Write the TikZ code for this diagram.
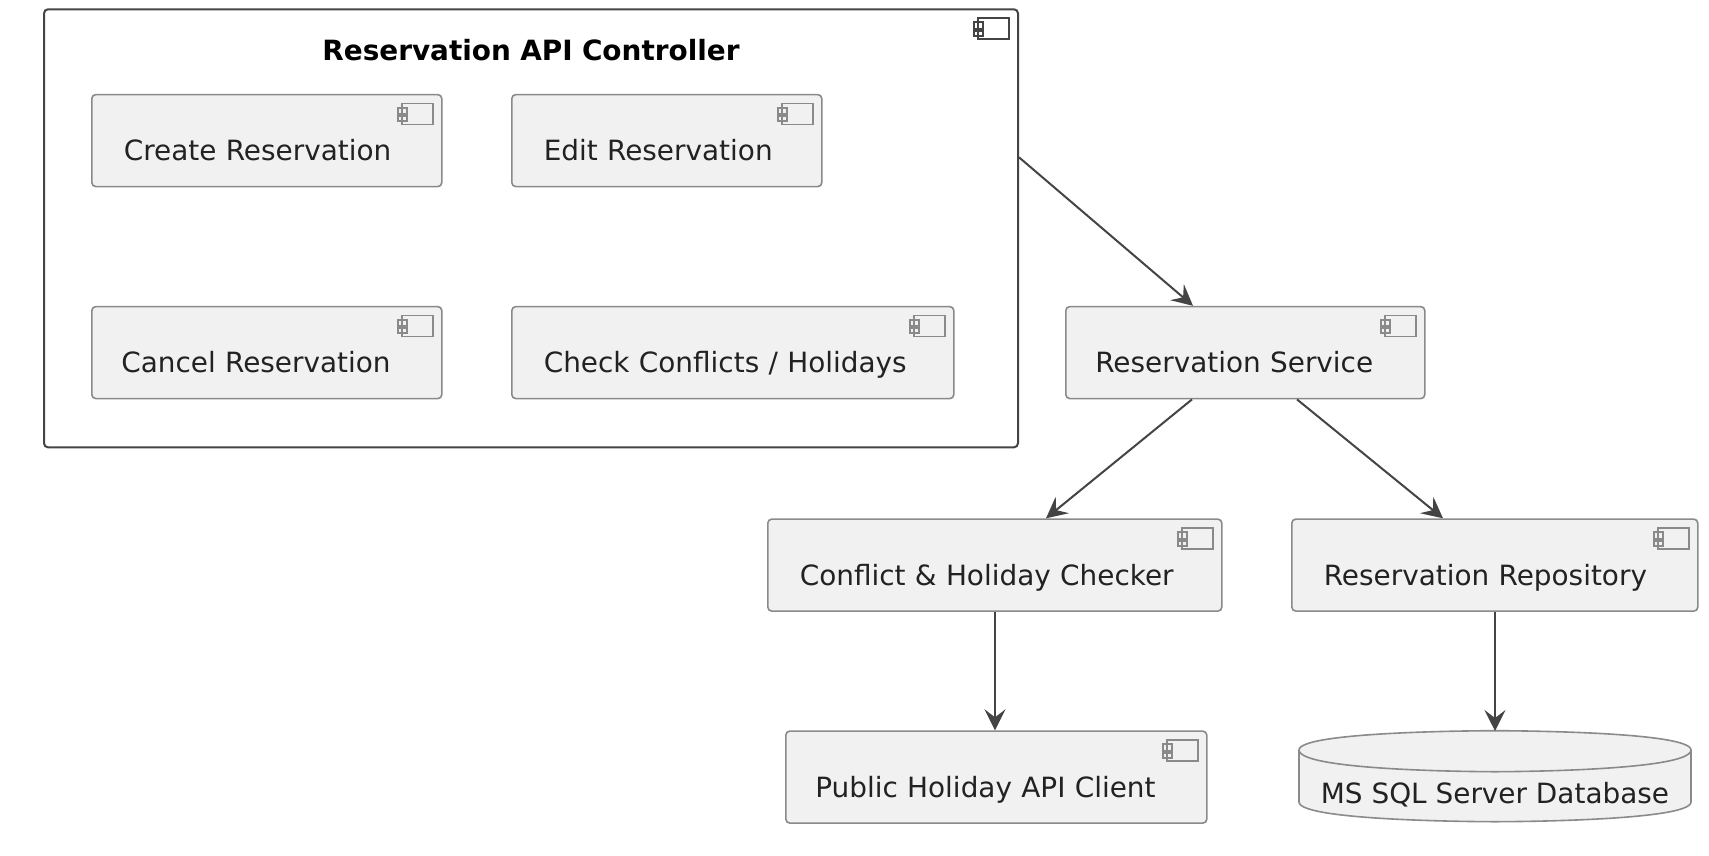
\documentclass[tikz,border=0pt]{standalone}
\usepackage{fontspec}
\setmainfont{DejaVu Sans}
\usetikzlibrary{arrows.meta}
\definecolor{boxfill}{HTML}{F1F1F1}
\definecolor{boxedge}{HTML}{8A8A8A}
\definecolor{darkedge}{HTML}{444444}
\definecolor{inkcol}{HTML}{222222}
\tikzset{
  compbox/.style={draw=boxedge,fill=boxfill,line width=1.6pt,rounded corners=4pt,anchor=north west,
    font=\fontsize{27.9}{32}\selectfont,text=inkcol,inner xsep=32pt,inner ysep=0pt,text height=66pt,text depth=26pt},
  outerbox/.style={draw=darkedge,fill=white,line width=2pt,rounded corners=4pt,anchor=north west,
    font=\fontsize{27.9}{32}\selectfont\bfseries,text=black,inner xsep=0pt,inner ysep=0pt,align=center,text height=51pt,text depth=387pt},
  link/.style={draw=darkedge,line width=2pt,-{Stealth[length=21pt,width=21pt,inset=8pt]}},
  compicon/.pic={
    \draw[pic actions,line width=1.8pt] (-41,9.7) rectangle (-10,30.7);
    \draw[pic actions,line width=1.8pt] (-45,14) rectangle (-36,20.3);
    \draw[pic actions,line width=1.8pt] (-45,22.4) rectangle (-36,27.4);
  }
}
\begin{document}
\begin{tikzpicture}[x=1pt,y=-1pt]
\useasboundingbox (0,0) rectangle (1709,855);
% outer component
\node (controller) at (43,8.3) [outerbox,text width=974pt] {Reservation API Controller};
\pic[draw=darkedge] at (controller.north east) {compicon};
% inner components
\node (create) at (91,93.8) [compbox,text width=286pt] {Create Reservation};
\node (edit) at (511,93.8) [compbox,text width=246pt] {Edit Reservation};
\node (cancel) at (91,305.8) [compbox,inner xsep=29.5pt,text width=291pt] {Cancel Reservation};
\node (check) at (511,305.8) [compbox,text width=378pt] {Check Conflicts / Holidays};
\pic[draw=boxedge] at (create.north east) {compicon};
\pic[draw=boxedge] at (edit.north east) {compicon};
\pic[draw=boxedge] at (cancel.north east) {compicon};
\pic[draw=boxedge] at (check.north east) {compicon};
% right hand side
\node (service) at (1065,305.8) [compbox,inner xsep=29.5pt,text width=300pt] {Reservation Service};
\node (checker) at (767,518.3) [compbox,text width=390pt] {Conflict \& Holiday Checker};
\node (repo) at (1291,518.3) [compbox,text width=342pt] {Reservation Repository};
\node (client) at (785,730.3) [compbox,inner xsep=29.5pt,text width=362pt] {Public Holiday API Client};
\pic[draw=boxedge] at (service.north east) {compicon};
\pic[draw=boxedge] at (checker.north east) {compicon};
\pic[draw=boxedge] at (repo.north east) {compicon};
\pic[draw=boxedge] at (client.north east) {compicon};
% database
\draw[draw=boxedge,fill=boxfill,line width=1.6pt] (1299,750) .. controls (1299,730.7) and (1495,730.7) .. (1495,730.7)
  .. controls (1495,730.7) and (1691,730.7) .. (1691,750) -- (1691,802)
  .. controls (1691,821.7) and (1495,821.7) .. (1495,821.7)
  .. controls (1495,821.7) and (1299,821.7) .. (1299,802) -- cycle;
\draw[draw=boxedge,line width=1.6pt] (1299,750) .. controls (1299,771.7) and (1495,771.7) .. (1495,771.7)
  .. controls (1495,771.7) and (1691,771.7) .. (1691,750);
\node (database) at (1495,795) [font=\fontsize{27.9}{32}\selectfont,text=inkcol,inner sep=0pt] {MS SQL Server Database};
\coordinate (dbtop) at (1495,731);
% connectors
\draw[link] ([yshift=-149pt]controller.north east) -- ([xshift=128pt]service.north west);
\draw[link] ([xshift=127pt]service.south west) -- ([xshift=279pt]checker.north west);
\draw[link] ([xshift=232pt]service.south west) -- ([xshift=152pt]repo.north west);
\draw[link] ([xshift=228pt]checker.south west) -- ([xshift=210pt]client.north west);
\draw[link] ([xshift=204pt]repo.south west) -- (dbtop);
\end{tikzpicture}
\end{document}
